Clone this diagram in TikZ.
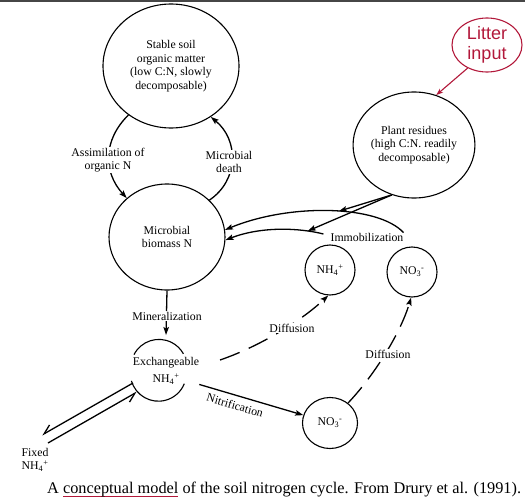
\documentclass[tikz,border=0pt]{standalone}
\usepackage{fontspec}
\setmainfont{Liberation Serif}
\newfontfamily\litterfont{Liberation Sans}
\usetikzlibrary{positioning, arrows.meta, shapes.geometric}
\definecolor{litterred}{RGB}{178,24,58}
\definecolor{topgray}{RGB}{70,70,70}
\newcommand{\redul}[1]{\sbox0{#1}\rlap{\color{litterred}\rule[-0.45ex]{\wd0}{1.1pt}}\usebox0}

\begin{document}
\begin{tikzpicture}[
    x=1pt, y=-1pt,
    pool/.style={draw, ellipse, line width=1.1pt, align=center, inner sep=0pt, font=\fontsize{11.8}{13.5}\selectfont},
    ion/.style={pool, minimum width=50pt, minimum height=50pt},
    txt/.style={align=center, inner sep=1pt, font=\fontsize{11.8}{13.5}\selectfont},
    lbl/.style={txt, fill=white},
    arrow/.style={-{Stealth[length=8pt, width=5.5pt, inset=1.5pt]}, line width=1.3pt},
    diff/.style={arrow, dash pattern=on 21pt off 10pt},
    harp/.style={-{Straight Barb[harpoon, swap, length=9pt, width=10pt]}, line width=1.3pt},
    litterarrow/.style={-{Stealth[length=7pt, width=5pt]}, line width=1.1pt, litterred},
]
\useasboundingbox (0,0) rectangle (525,503);
\draw[topgray, line width=1.6pt] (0,0.8) -- (525,0.8);

% Pools
\node[pool, minimum width=136pt, minimum height=124pt] (som) at (171,66) {Stable soil\\organic matter\\(low C:N, slowly\\decomposable)};
\node[pool, minimum width=106pt, minimum height=106pt] (plant) at (414,145) {Plant residues\\(high C:N. readily\\decomposable)};
\node[pool, minimum width=116pt, minimum height=106pt] (micro) at (167,237) {Microbial\\biomass N};
\node[ion] (nh4) at (330,270) {NH\textsubscript{4}\textsuperscript{+}};
\node[ion] (no3_a) at (412,272) {NO\textsubscript{3}\textsuperscript{-}};
\node[ion, minimum width=55pt, minimum height=51pt] (no3_b) at (330,423) {NO\textsubscript{3}\textsuperscript{-}};
\node[txt, circle, minimum size=56pt, inner sep=0pt] (exch) at (166,371) {Exchangeable\\[4pt]NH\textsubscript{4}\textsuperscript{+}};
\node[txt] (fixed) at (35,460) {Fixed\\NH\textsubscript{4}\textsuperscript{+}};
\node[draw=litterred, ellipse, line width=1.1pt, minimum width=70pt, minimum height=54pt, inner sep=0pt,
      text=litterred, align=center, font=\litterfont\fontsize{18}{20}\selectfont] (litter) at (487,45) {Litter\\input};
\node[txt, inner sep=0pt] (immob) at (367,237) {Immobilization};

% Exchangeable pool outline
\draw[line width=1.1pt] (exch.153) arc[start angle=153, end angle=29, radius=28pt];
\draw[line width=1.1pt] (exch.196) arc[start angle=196, end angle=338, radius=28pt];

% Input
\draw[litterarrow] (litter.-130) -- (plant.66);

% Stable SOM <-> microbes
\draw[arrow] (som.229) .. controls (103,140) and (103,172) .. (micro.136);
\draw[arrow] (micro.41) .. controls (239,180) and (239,140) .. (som.-52);

% Immobilization
\draw[arrow] (immob.north east) .. controls (378,205) and (290,203) .. coordinate[pos=0.45] (on_no3) (micro.7);
\draw[arrow] ([xshift=-7pt, yshift=3pt]immob.west) .. controls (300,228) and (262,226) .. coordinate[pos=0.2] (on_nh4) (micro.-3);
\draw[arrow] (plant.246) -- (on_no3);
\draw[arrow] (plant.246) -- (on_nh4);

% Mineralization and nitrification
\draw[arrow] (micro.south) -- (exch.north);
\draw[arrow] (exch.-22) -- node[txt, sloped, below=4pt, pos=0.37] {Nitrification} (no3_b);

% Fixation
\draw[harp] ([shift={(-33,12)}]exch.center) -- ([shift={(7,-25)}]fixed.center);
\draw[harp] ([shift={(13,-17)}]fixed.center) -- ([shift={(-29,21)}]exch.center);

% Diffusion
\draw[diff] ([shift={(54,-11)}]exch.center) .. controls (258,347) and (300,322) .. (nh4.-94);
\draw[diff] (no3_b.48) .. controls (372,378) and (400,335) .. (no3_a.-92);

% Labels
\node[lbl] (assim) at (108,160) {Assimilation of\\organic N};
\node[lbl] (death) at (229,162) {Microbial\\death};
\node[lbl] (minz) at (167,316) {Mineralization};
\node[lbl] (diff_a) at (292,328) {Diffusion};
\node[lbl] (diff_b) at (388,354) {Diffusion};

% Caption
\node[anchor=west, inner sep=0pt, font=\fontsize{16.3}{19}\selectfont] (caption) at (47,490)
    {A \redul{conceptual model} of the soil nitrogen cycle. From Drury et al. (1991).};
\end{tikzpicture}
\end{document}
